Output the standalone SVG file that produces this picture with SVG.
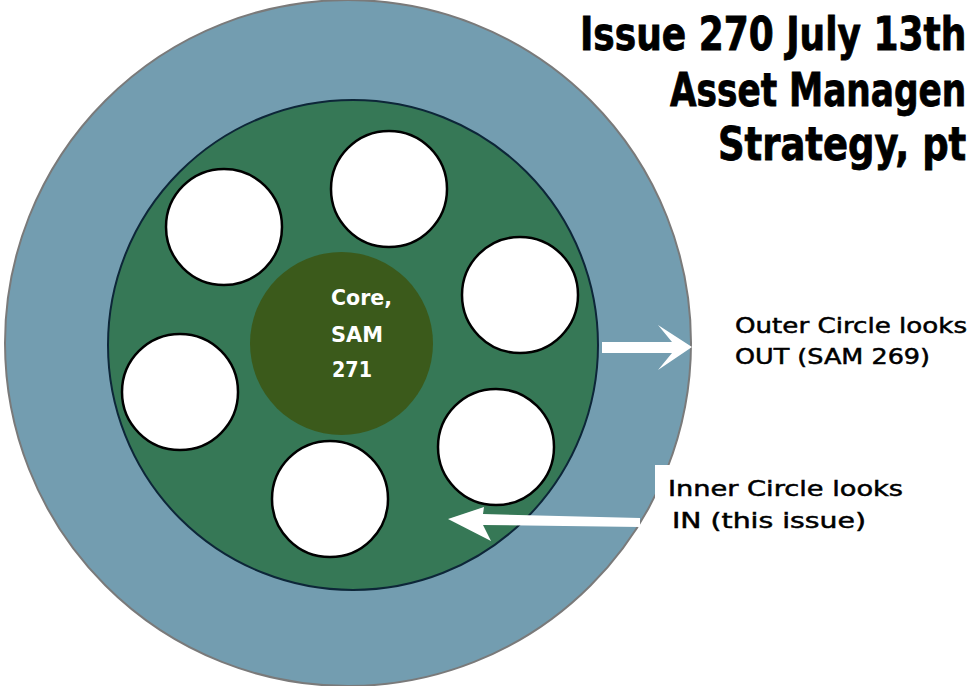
<svg xmlns="http://www.w3.org/2000/svg" width="972" height="686" viewBox="0 0 972 686">
<style>
.title{font-family:"DejaVu Sans Condensed","Liberation Sans",sans-serif;font-weight:bold;font-size:46px;fill:#000;stroke:#000;stroke-width:0.8}
.hand{font-family:"DejaVu Sans","Liberation Sans",sans-serif;font-size:21px;fill:#000;stroke:#000;stroke-width:0.5}
.core{font-family:"DejaVu Sans","Liberation Sans",sans-serif;font-size:21px;fill:#fff;font-weight:bold}
.sat{fill:#fff;stroke:#000;stroke-width:2.5}
.arrow{fill:#fff}
</style>
<rect width="972" height="686" fill="#fff"/>
<g id="outer-circle"><circle cx="348" cy="343" r="343" fill="#739db0" stroke="#7a7a7a" stroke-width="2"/></g>
<g id="inner-circle"><circle cx="353" cy="345" r="245" fill="#367856" stroke="#0d2638" stroke-width="2"/></g>
<g id="core"><circle cx="341.5" cy="343.5" r="91.5" fill="#3b5a1b"/>
<text class="core" x="331" y="305" textLength="61" lengthAdjust="spacingAndGlyphs">Core,</text>
<text class="core" x="331" y="342" textLength="52" lengthAdjust="spacingAndGlyphs">SAM</text>
<text class="core" x="332" y="377" textLength="40" lengthAdjust="spacingAndGlyphs">271</text></g>
<g id="sat1"><circle class="sat" cx="389" cy="189" r="58"/></g>
<g id="sat2"><circle class="sat" cx="224" cy="227" r="58"/></g>
<g id="sat3"><circle class="sat" cx="520" cy="295" r="58"/></g>
<g id="sat4"><circle class="sat" cx="180" cy="392" r="58"/></g>
<g id="sat5"><circle class="sat" cx="496" cy="447" r="58"/></g>
<g id="sat6"><circle class="sat" cx="330" cy="499" r="58"/></g>
<g id="title">
<text class="title" transform="translate(580,50) scale(0.75,1)" x="0" y="0" textLength="515" lengthAdjust="spacingAndGlyphs">Issue 270 July 13th</text>
<text class="title" transform="translate(670,106) scale(0.75,1)" x="0" y="0" textLength="395" lengthAdjust="spacingAndGlyphs">Asset Managen</text>
<text class="title" transform="translate(718,160) scale(0.75,1)" x="0" y="0" textLength="331" lengthAdjust="spacingAndGlyphs">Strategy, pt</text>
</g>
<g id="outer-label">
<text class="hand" x="735" y="333" textLength="232" lengthAdjust="spacingAndGlyphs">Outer Circle looks</text>
<text class="hand" x="735" y="364" textLength="195" lengthAdjust="spacingAndGlyphs">OUT (SAM 269)</text>
</g>
<g id="inner-label">
<rect x="655" y="465" width="260" height="80" fill="#fff"/>
<text class="hand" x="668" y="496" textLength="235" lengthAdjust="spacingAndGlyphs">Inner Circle looks</text>
<text class="hand" x="672" y="528" textLength="194" lengthAdjust="spacingAndGlyphs">IN (this issue)</text>
</g>
<g id="connectors">
<polygon class="arrow" points="602,342 672,342 658,325 692,347 658,370 672,353 602,353"/>
<polygon class="arrow" points="640,518 483,514 484,507 448,519 491,541 483,525 640,527"/>
</g>
</svg>
